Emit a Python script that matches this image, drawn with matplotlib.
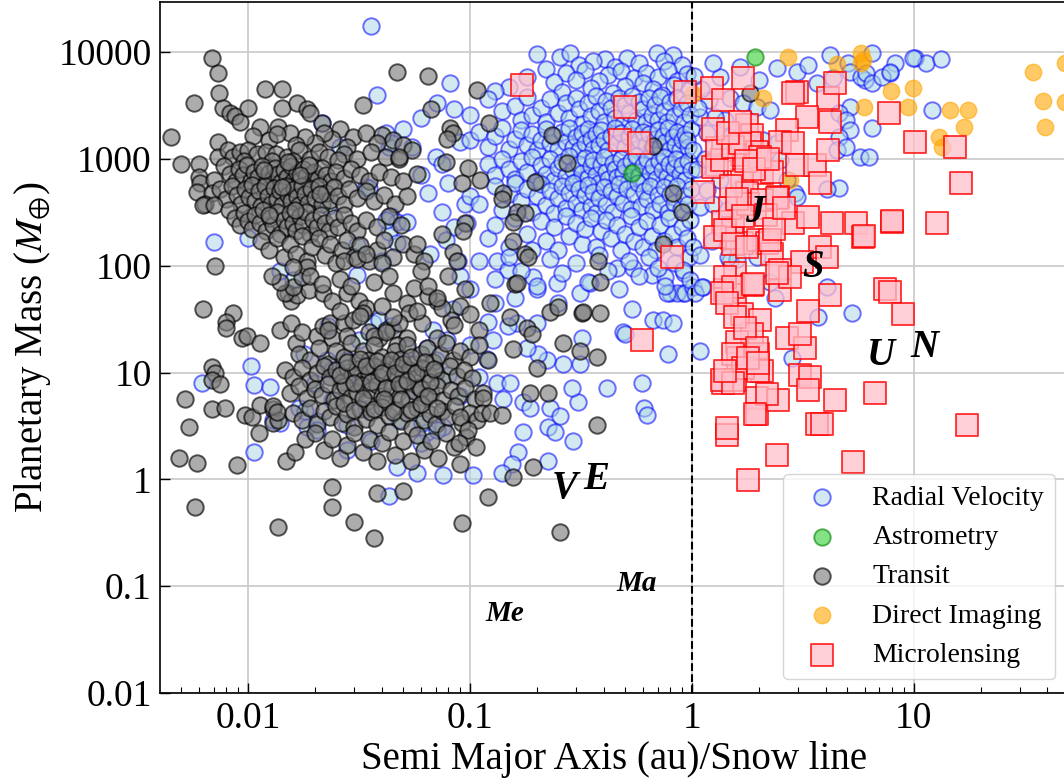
import matplotlib
matplotlib.use("Agg")
import matplotlib.pyplot as plt
from matplotlib.ticker import FixedLocator, FuncFormatter, LogLocator, NullLocator, NullFormatter

plt.rcParams['font.family'] = ['Liberation Serif', 'DejaVu Serif']
plt.rcParams['mathtext.fontset'] = 'stix'

# ---- data: (a / snow line, mass in earth masses) ----

# transits: outliers and the far-left hook
transit_far = [(0.0069, 8800), (0.0073, 6300), (0.0074, 4100), (0.0057, 3300), (0.0045, 1600),
               (0.005, 900), (0.006, 900), (0.0073, 1430), (0.0077, 3000), (0.0083, 2700),
               (0.0087, 2500), (0.0092, 2200), (0.01, 3000), (0.0119, 4500), (0.0143, 4500),
               (0.0143, 3000), (0.0167, 3300), (0.0184, 2900), (0.019, 2700), (0.0215, 2150),
               (0.0113, 2000), (0.0136, 2000), (0.033, 3200), (0.047, 6500), (0.026, 1900),
               (0.0063, 39), (0.0086, 36), (0.008, 30), (0.008, 26), (0.0094, 21), (0.0099, 22),
               (0.0113, 19), (0.0069, 11.2), (0.0071, 9.9), (0.0069, 8.6), (0.0075, 7.8),
               (0.0052, 5.6), (0.0069, 4.6), (0.0079, 4.7), (0.0054, 3.1), (0.0049, 1.6),
               (0.0059, 1.43), (0.0089, 1.36), (0.0058, 0.55), (0.0097, 4.0), (0.0104, 3.8),
               (0.0113, 5.0), (0.0129, 4.6), (0.0112, 2.7), (0.013, 3.4), (0.0137, 3.6),
               (0.0148, 1.47), (0.0163, 1.8), (0.0137, 0.36), (0.024, 0.84), (0.024, 0.55),
               (0.038, 0.74), (0.05, 0.77), (0.03, 0.4), (0.037, 0.28), (0.12, 0.68),
               (0.092, 0.39), (0.254, 0.32), (0.0071, 100), (0.013, 4.9), (0.0135, 4.3)]

# transits: hot jupiter clump
transit_hot = [(0.0297, 1600), (0.034, 1750), (0.04, 1680), (0.024, 1550), (0.022, 1750), (0.02, 1420),
               (0.018, 1600), (0.0155, 1750), (0.0125, 1500), (0.0165, 1350), (0.028, 1300),
               (0.045, 1500), (0.05, 1350), (0.038, 1400), (0.0105, 1650), (0.0135, 1700),
               (0.0073, 1030), (0.0081, 1200), (0.0086, 1030), (0.0092, 1150), (0.01, 1200),
               (0.011, 1100), (0.012, 1150), (0.0134, 1100), (0.027, 1100), (0.015, 1050),
               (0.017, 1200), (0.019, 1000), (0.021, 1150), (0.023, 1050), (0.031, 1000),
               (0.036, 1150), (0.042, 1050), (0.048, 1000), (0.055, 1200), (0.0096, 950),
               (0.0128, 950), (0.016, 950), (0.0255, 980),
               (0.006, 680), (0.0061, 600), (0.007, 630), (0.0078, 850), (0.0083, 720), (0.0088, 620),
               (0.0091, 800), (0.0095, 700), (0.0099, 880), (0.0103, 620), (0.0107, 760), (0.0111, 680),
               (0.0116, 850), (0.012, 600), (0.0124, 740), (0.0129, 660), (0.0133, 820), (0.0137, 720),
               (0.0141, 610), (0.0146, 780), (0.015, 680), (0.0156, 850), (0.016, 620), (0.0166, 730),
               (0.0171, 640), (0.0177, 800), (0.0183, 690), (0.019, 600), (0.0198, 760), (0.0207, 650),
               (0.0215, 820), (0.0225, 700), (0.0236, 620), (0.025, 750), (0.027, 660), (0.029, 800),
               (0.032, 700), (0.035, 620), (0.039, 760), (0.044, 680), (0.05, 620), (0.058, 720),
               (0.0059, 490), (0.0069, 480), (0.0064, 380), (0.0075, 520), (0.008, 420), (0.0085, 560),
               (0.0089, 460), (0.0093, 380), (0.0097, 520), (0.0101, 440), (0.0104, 570), (0.0108, 400),
               (0.0112, 500), (0.0115, 360), (0.0119, 560), (0.0123, 450), (0.0127, 380), (0.0131, 530),
               (0.0135, 420), (0.0139, 500), (0.0143, 370), (0.0148, 560), (0.0152, 460), (0.0157, 400),
               (0.0161, 520), (0.0166, 440), (0.017, 370), (0.0176, 560), (0.0181, 470), (0.0187, 390),
               (0.0193, 520), (0.02, 430), (0.0208, 560), (0.0216, 380), (0.0224, 480), (0.0233, 410),
               (0.0243, 540), (0.0255, 450), (0.027, 380), (0.0285, 520), (0.031, 430), (0.034, 500),
               (0.037, 400), (0.041, 460), (0.046, 380), (0.052, 450), (0.0063, 370), (0.007, 370),
               (0.0082, 330), (0.0087, 280), (0.0092, 240), (0.0096, 310), (0.01, 260), (0.0104, 220),
               (0.0108, 300), (0.0113, 250), (0.0117, 330), (0.0121, 210), (0.0126, 280), (0.013, 240),
               (0.0135, 320), (0.014, 200), (0.0145, 270), (0.015, 230), (0.0155, 310), (0.016, 250),
               (0.0165, 210), (0.0171, 290), (0.0177, 240), (0.0183, 320), (0.019, 200), (0.0197, 270),
               (0.0205, 230), (0.0213, 300), (0.0222, 250), (0.0232, 210), (0.0243, 280), (0.0255, 230),
               (0.027, 300), (0.029, 250), (0.031, 210), (0.034, 270), (0.038, 230), (0.043, 290),
               (0.049, 240), (0.0115, 170), (0.0125, 140), (0.0135, 180), (0.0145, 120), (0.0155, 160),
               (0.0165, 130), (0.0175, 190), (0.0185, 110), (0.0195, 150), (0.021, 180), (0.0222, 125),
               (0.0235, 160), (0.025, 105), (0.0265, 140), (0.028, 175), (0.03, 120), (0.032, 155),
               (0.035, 110), (0.038, 140), (0.041, 175), (0.045, 120), (0.05, 160), (0.056, 130),
               (0.062, 110), (0.0118, 780), (0.0142, 540), (0.0163, 330), (0.0188, 880), (0.0212, 470),
               (0.0151, 940), (0.0124, 300), (0.0172, 700)]

# transits: the band between hot jupiters and small planets
transit_mid = [(0.0152, 56), (0.0157, 47), (0.0166, 53), (0.0189, 59), (0.0218, 56), (0.0239, 47),
               (0.0278, 56), (0.0316, 47), (0.034, 40), (0.04, 42), (0.045, 56), (0.052, 45),
               (0.053, 36), (0.071, 47), (0.014, 25), (0.0157, 29), (0.0165, 19), (0.0176, 24),
               (0.0205, 22), (0.0218, 27), (0.0235, 29), (0.0239, 21), (0.027, 29), (0.0298, 31),
               (0.033, 36), (0.035, 24), (0.039, 21), (0.042, 25), (0.045, 25), (0.048, 29),
               (0.052, 21), (0.061, 29), (0.071, 21), (0.082, 31), (0.0147, 56), (0.016, 63),
               (0.0175, 79), (0.0184, 98), (0.016, 98), (0.027, 110), (0.031, 115), (0.034, 130),
               (0.04, 105), (0.023, 25), (0.028, 22), (0.037, 22), (0.042, 24), (0.047, 18),
               (0.0139, 70), (0.0128, 80), (0.019, 80), (0.0215, 68), (0.026, 75), (0.029, 64),
               (0.037, 70), (0.043, 80), (0.056, 62), (0.065, 52), (0.09, 42), (0.045, 33),
               (0.058, 38), (0.026, 38), (0.032, 34), (0.06, 90), (0.065, 65), (0.08, 80),
               (0.075, 40), (0.085, 28), (0.1, 35), (0.11, 25), (0.095, 60)]

# transits: small planets
transit_small = [(0.017, 15), (0.019, 13), (0.021, 17), (0.023, 12), (0.025, 16), (0.027, 14), (0.029, 19),
                 (0.031, 12.5), (0.033, 16), (0.035, 13), (0.037, 18), (0.04, 14), (0.043, 12), (0.046, 16),
                 (0.049, 13.5), (0.052, 18), (0.056, 12), (0.06, 15), (0.064, 17), (0.068, 12.5),
                 (0.073, 14.5), (0.078, 19), (0.084, 13), (0.09, 16), (0.1, 14), (0.11, 18), (0.12, 13),
                 (0.0147, 10.5), (0.016, 9), (0.0175, 11), (0.019, 8.5), (0.0205, 10), (0.022, 11.5),
                 (0.0235, 9), (0.025, 10.5), (0.0265, 8.2), (0.028, 11), (0.0295, 9.5), (0.031, 10.8),
                 (0.033, 8.6), (0.035, 10), (0.037, 11.6), (0.039, 9), (0.041, 10.4), (0.044, 8.4),
                 (0.047, 11.2), (0.05, 9.4), (0.053, 10.6), (0.057, 8.8), (0.061, 11), (0.065, 9.6),
                 (0.07, 10.2), (0.075, 8.5), (0.081, 11.4), (0.087, 9.2), (0.094, 10.5), (0.102, 8.9),
                 (0.0155, 6.5), (0.017, 7.5), (0.0185, 5.8), (0.02, 7), (0.0215, 6.2), (0.023, 7.8),
                 (0.0245, 5.5), (0.026, 6.8), (0.0275, 7.4), (0.029, 5.9), (0.031, 6.6), (0.0325, 7.6),
                 (0.034, 5.3), (0.036, 6.9), (0.038, 7.7), (0.04, 6), (0.042, 5.4), (0.0445, 7.1),
                 (0.047, 6.3), (0.05, 7.6), (0.053, 5.6), (0.056, 6.7), (0.059, 7.3), (0.063, 5.8),
                 (0.067, 6.5), (0.071, 7.5), (0.076, 5.5), (0.082, 6.8), (0.088, 6), (0.095, 7.2),
                 (0.105, 5.7), (0.115, 6.5), (0.016, 4.2), (0.0175, 3.6), (0.019, 4.7), (0.0205, 3.3),
                 (0.022, 4.4), (0.0235, 3.8), (0.025, 4.9), (0.0265, 3.4), (0.028, 4.1), (0.03, 3.1),
                 (0.032, 4.6), (0.034, 3.7), (0.036, 4.3), (0.038, 3.2), (0.04, 4.8), (0.043, 3.9),
                 (0.046, 4.5), (0.049, 3.5), (0.052, 4.2), (0.055, 3), (0.058, 4.7), (0.062, 3.6),
                 (0.066, 4.1), (0.07, 3.3), (0.075, 4.4), (0.08, 3.8), (0.086, 4.9), (0.092, 3.4),
                 (0.1, 4.2), (0.108, 3.6), (0.018, 2.4), (0.02, 2.7), (0.022, 1.9), (0.024, 2.4),
                 (0.026, 1.6), (0.028, 2.1), (0.03, 2.7), (0.033, 1.8), (0.035, 2.4), (0.038, 1.5),
                 (0.04, 2.2), (0.043, 2.8), (0.046, 1.7), (0.05, 2.3), (0.054, 1.5), (0.058, 2.6),
                 (0.062, 1.9), (0.067, 2.3), (0.072, 1.6), (0.078, 2.7), (0.085, 2), (0.09, 1.4),
                 (0.096, 2.5), (0.026, 9.5), (0.028, 12.5), (0.03, 8), (0.032, 13.5), (0.034, 11.5),
                 (0.036, 8.2), (0.038, 12.8), (0.04, 9.8), (0.042, 7.2), (0.044, 13), (0.046, 10),
                 (0.048, 7.8), (0.05, 12), (0.052, 8.4), (0.054, 14), (0.057, 9.8), (0.06, 7),
                 (0.063, 12.5), (0.066, 8.2), (0.069, 10.8), (0.027, 5.2), (0.03, 4.5), (0.033, 5.8),
                 (0.037, 4.6), (0.041, 5.7), (0.045, 4.3), (0.049, 5.6), (0.054, 4.5), (0.06, 5.1),
                 (0.065, 6), (0.071, 4.7), (0.115, 5.8), (0.113, 4.2), (0.123, 4.2), (0.14, 4.0),
                 (0.09, 3.8), (0.098, 2.9), (0.089, 2.2), (0.107, 2.0)]

# transits: sparse ones out to the snow line
transit_sparse = [(0.0647, 5950), (0.108, 4400), (0.067, 2940), (0.122, 2150), (0.081, 1950), (0.084, 1750),
                  (0.079, 1530), (0.078, 930), (0.098, 820), (0.092, 590), (0.111, 630), (0.141, 480),
                  (0.14, 420), (0.196, 610), (0.234, 1670), (0.273, 910), (0.163, 320), (0.177, 310),
                  (0.156, 255), (0.095, 250), (0.093, 210), (0.075, 200), (0.058, 160), (0.156, 170),
                  (0.177, 130), (0.183, 120), (0.084, 135), (0.087, 110), (0.377, 110), (0.385, 70),
                  (0.667, 1320), (0.82, 480), (0.9, 315), (0.74, 160), (0.16, 67), (0.071, 50),
                  (1.82, 4100), (0.32, 36), (0.385, 36), (0.229, 37), (0.249, 41), (0.263, 19),
                  (0.313, 16), (0.373, 14), (0.224, 6.4), (0.186, 6.4), (0.373, 3.2), (0.156, 1.05),
                  (0.192, 1.3), (0.322, 37), (0.048, 1040), (0.163, 69), (0.123, 45), (0.152, 33),
                  (0.181, 26), (0.19, 23), (0.156, 16.5), (0.2, 11)]

# radial velocity: close-in giants
rv_hot = [(0.036, 17500), (0.038, 3950), (0.0215, 2150), (0.026, 1300), (0.0206, 600), (0.034, 550),
          (0.043, 1300), (0.042, 1750), (0.044, 1420), (0.035, 530), (0.023, 360), (0.044, 290),
          (0.047, 255), (0.052, 255), (0.043, 205), (0.047, 162), (0.031, 155), (0.04, 110),
          (0.031, 82), (0.014, 90), (0.016, 74), (0.01, 180), (0.007, 166), (0.0126, 590),
          (0.042, 270), (0.05, 1900), (0.055, 1300), (0.06, 700), (0.065, 480), (0.07, 1050),
          (0.075, 320), (0.08, 600), (0.085, 230), (0.09, 1450), (0.095, 380), (0.066, 130),
          (0.078, 175), (0.088, 110), (0.06, 2400), (0.085, 2900), (0.075, 900)]

# radial velocity: low masses
rv_low = [(0.0103, 11.6), (0.0106, 7.6), (0.0126, 7.3), (0.0062, 7.9), (0.0106, 1.8), (0.0178, 15),
          (0.0184, 3.1), (0.0226, 13), (0.0239, 10.5), (0.0278, 13), (0.0316, 20), (0.0367, 29),
          (0.039, 31), (0.044, 27), (0.052, 17), (0.064, 17), (0.068, 25), (0.079, 20), (0.084, 39),
          (0.076, 3.1), (0.064, 2.8), (0.047, 1.3), (0.028, 1.9), (0.0205, 3.55), (0.017, 4.7),
          (0.018, 4.4), (0.034, 4.6), (0.048, 3.6), (0.061, 3.4), (0.071, 2.9), (0.023, 27),
          (0.02, 8), (0.024, 5.5), (0.028, 3.2), (0.032, 9), (0.036, 2.3), (0.045, 12), (0.055, 7),
          (0.06, 2.2), (0.07, 13), (0.08, 9.5), (0.09, 6), (0.1, 18), (0.11, 9), (0.12, 30),
          (0.13, 45), (0.1, 60), (0.09, 80), (0.16, 50), (0.2, 60), (0.25, 45), (0.0129, 3.6),
          (0.014, 3.4), (0.0205, 2.9), (0.043, 0.7), (0.058, 1.14), (0.076, 1.1),
          (0.133, 110), (0.148, 92), (0.192, 78), (0.246, 69), (0.313, 55), (0.348, 69), (0.46, 95),
          (0.543, 95), (0.66, 82), (0.76, 78), (0.8, 55), (0.91, 55), (0.536, 39), (0.67, 31),
          (0.74, 31), (0.82, 29), (0.49, 24), (0.32, 21), (0.78, 15), (0.313, 12), (0.263, 12),
          (0.222, 13), (0.203, 15), (0.18, 17), (0.163, 29), (0.2, 29), (0.148, 27), (0.127, 20),
          (0.119, 13.5), (0.133, 7.9), (0.152, 7.9), (0.141, 5.6), (0.173, 5.3), (0.186, 4.7),
          (0.229, 4.7), (0.254, 3.9), (0.307, 5.3), (0.288, 7.2), (0.414, 7.2), (0.595, 7.9),
          (0.61, 4.7), (0.63, 4.0), (0.224, 3.1), (0.242, 2.8), (0.29, 2.3), (0.173, 2.8),
          (0.165, 1.8), (0.154, 1.4), (0.224, 1.5), (0.103, 1.1), (0.14, 1.15), (0.86, 55),
          (0.77, 55), (0.93, 55), (0.5, 23)]

# radial velocity: the big giant-planet cloud inside the snow line
rv_giant = [(0.2, 9500), (0.254, 9000), (0.282, 9800), (0.406, 8600), (0.51, 8800), (0.695, 9800),
            (0.82, 9300), (0.31, 7600), (0.36, 8200), (0.45, 7200), (0.58, 7900), (0.75, 8300),
            (0.9, 7600), (0.22, 6900), (0.27, 6400), (0.33, 6800), (0.42, 6100), (0.48, 6600),
            (0.55, 5700), (0.62, 6300), (0.7, 5900), (0.78, 6800), (0.86, 5400), (0.95, 6200),
            (0.18, 5900), (0.24, 5200), (0.3, 5500), (0.38, 5300), (0.6, 5100), (0.081, 5100),
            (0.15, 4700), (0.35, 4600), (0.5, 4800), (0.67, 4500), (0.83, 4900), (0.97, 4400),
            (0.13, 4300), (0.26, 4200), (0.44, 4100), (0.73, 4000),
            (0.071, 3300), (0.1, 2570), (0.12, 3600), (0.14, 2800), (0.16, 3100), (0.17, 2300),
            (0.18, 3800), (0.19, 2600), (0.21, 3000), (0.22, 2200), (0.23, 3600), (0.25, 2700),
            (0.27, 3300), (0.28, 2400), (0.3, 3700), (0.31, 2900), (0.32, 2100), (0.34, 3300),
            (0.35, 2500), (0.37, 3900), (0.38, 2800), (0.4, 2200), (0.41, 3500), (0.43, 3000),
            (0.45, 2400), (0.47, 3700), (0.49, 2100), (0.5, 3200), (0.52, 2700), (0.54, 3900),
            (0.56, 2300), (0.58, 3400), (0.6, 2900), (0.62, 2200), (0.64, 3700), (0.66, 2600),
            (0.68, 3200), (0.7, 2300), (0.72, 3800), (0.75, 2800), (0.77, 2200), (0.8, 3400),
            (0.83, 2500), (0.86, 3700), (0.89, 2900), (0.92, 2200), (0.95, 3300), (0.98, 2600),
            (0.1, 1500), (0.11, 1800), (0.12, 1300), (0.13, 1650), (0.14, 1950), (0.15, 1250),
            (0.16, 1550), (0.17, 1850), (0.18, 1350), (0.19, 1700), (0.2, 1200), (0.21, 1500),
            (0.22, 1900), (0.23, 1400), (0.24, 1650), (0.25, 1250), (0.26, 1800), (0.27, 1450),
            (0.28, 1950), (0.29, 1300), (0.3, 1600), (0.31, 1200), (0.32, 1750), (0.33, 1400),
            (0.34, 1900), (0.35, 1550), (0.36, 1250), (0.37, 1700), (0.38, 1350), (0.39, 1850),
            (0.4, 1500), (0.42, 1200), (0.43, 1650), (0.45, 1950), (0.46, 1400), (0.48, 1750),
            (0.5, 1300), (0.52, 1600), (0.54, 1900), (0.56, 1250), (0.58, 1500), (0.6, 1800),
            (0.62, 1350), (0.64, 1700), (0.66, 1200), (0.68, 1550), (0.7, 1850), (0.72, 1300),
            (0.74, 1650), (0.76, 1450), (0.78, 1950), (0.8, 1250), (0.82, 1600), (0.84, 1350),
            (0.86, 1800), (0.88, 1200), (0.9, 1500), (0.93, 1700), (0.96, 1300), (0.99, 1900),
            (0.12, 900), (0.13, 700), (0.14, 1000), (0.15, 800), (0.16, 650), (0.17, 950),
            (0.18, 750), (0.19, 1050), (0.2, 620), (0.21, 880), (0.22, 720), (0.23, 1000),
            (0.24, 640), (0.25, 830), (0.26, 940), (0.27, 690), (0.28, 1060), (0.29, 780),
            (0.3, 610), (0.31, 900), (0.32, 730), (0.33, 1020), (0.34, 660), (0.35, 850),
            (0.36, 970), (0.37, 710), (0.38, 600), (0.39, 880), (0.4, 1040), (0.41, 760),
            (0.42, 650), (0.44, 920), (0.45, 800), (0.46, 680), (0.48, 1000), (0.49, 740),
            (0.5, 860), (0.52, 620), (0.53, 950), (0.55, 770), (0.56, 1060), (0.58, 690),
            (0.6, 880), (0.61, 610), (0.63, 1000), (0.65, 740), (0.67, 860), (0.69, 650),
            (0.71, 960), (0.73, 780), (0.75, 1050), (0.77, 680), (0.79, 900), (0.81, 620),
            (0.83, 820), (0.85, 1000), (0.88, 720), (0.9, 880), (0.93, 640), (0.96, 960), (0.99, 780),
            (0.1, 450), (0.11, 380), (0.13, 560), (0.14, 330), (0.15, 470), (0.16, 590), (0.17, 400),
            (0.18, 520), (0.19, 320), (0.2, 450), (0.21, 580), (0.22, 370), (0.23, 500), (0.24, 310),
            (0.25, 430), (0.26, 560), (0.27, 350), (0.28, 480), (0.29, 590), (0.3, 390), (0.31, 520),
            (0.32, 330), (0.33, 460), (0.34, 570), (0.35, 360), (0.36, 490), (0.37, 310), (0.38, 430),
            (0.4, 550), (0.41, 370), (0.43, 500), (0.44, 320), (0.46, 450), (0.47, 580), (0.49, 390),
            (0.51, 520), (0.53, 340), (0.55, 470), (0.57, 590), (0.59, 360), (0.61, 500), (0.63, 420),
            (0.65, 560), (0.67, 330), (0.7, 460), (0.72, 380), (0.75, 540), (0.78, 320), (0.8, 470),
            (0.83, 390), (0.86, 560), (0.89, 340), (0.92, 450), (0.96, 380), (0.99, 520),
            (0.097, 250), (0.12, 180), (0.13, 240), (0.15, 150), (0.16, 280), (0.18, 200), (0.19, 140),
            (0.21, 260), (0.22, 170), (0.24, 230), (0.25, 140), (0.27, 290), (0.28, 190), (0.3, 250),
            (0.32, 160), (0.33, 220), (0.35, 280), (0.37, 150), (0.39, 210), (0.41, 270), (0.43, 180),
            (0.46, 240), (0.48, 140), (0.5, 200), (0.53, 290), (0.55, 170), (0.58, 230), (0.6, 150),
            (0.63, 260), (0.66, 190), (0.69, 140), (0.72, 240), (0.75, 170), (0.79, 280), (0.82, 200),
            (0.86, 150), (0.9, 230), (0.95, 180), (0.98, 270),
            (0.11, 110), (0.13, 75), (0.15, 120), (0.17, 90), (0.2, 65), (0.23, 115), (0.26, 85),
            (0.3, 105), (0.34, 70), (0.38, 125), (0.42, 90), (0.47, 60), (0.52, 110), (0.58, 80),
            (0.64, 120), (0.7, 95), (0.76, 65), (0.84, 105), (0.92, 85), (0.97, 120)]

# radial velocity: beyond the snow line
rv_cold = [(1.09, 16), (1.48, 110), (1.6, 115), (1.01, 63), (1.12, 63), (2.36, 50), (2.82, 13.6),
           (3.7, 33), (5.25, 36), (4.05, 63), (2.91, 480), (4.6, 530), (4.05, 520), (5.7, 1040),
           (6.25, 1040), (6.5, 1940), (12.1, 2860), (4.19, 9370), (5.05, 7900), (6.0, 5470),
           (6.47, 9790), (8.2, 7900), (7.8, 6350), (10.1, 8800), (11.3, 7900), (13.2, 8600),
           (1.34, 5800), (1.64, 7200), (2.0, 5500), (2.41, 7100), (2.97, 6500), (3.33, 7600),
           (3.66, 5100), (4.32, 5700), (5.15, 6500), (5.8, 5800), (6.1, 6300), (6.5, 5100),
           (7.2, 5800), (7.8, 6500), (9.9, 8800), (1.2, 3560), (1.48, 3700), (1.7, 3300),
           (1.96, 3050), (2.24, 2860), (5.15, 3050), (4.6, 2680), (4.97, 2300), (5.15, 1860),
           (4.6, 1600), (4.5, 1210), (4.97, 1290), (1.41, 2300), (1.48, 1600), (1.09, 2460),
           (0.95, 1500), (1.01, 1200), (1.17, 1750), (1.27, 2460), (1.64, 550), (1.34, 630),
           (1.17, 510), (1.09, 355), (1.24, 380), (1.44, 330), (1.23, 170), (1.01, 150),
           (1.09, 125), (0.91, 92), (0.98, 73), (2.09, 1500), (2.41, 1400), (2.97, 440),
           (2.68, 630), (2.49, 970), (1.45, 120), (1.96, 120), (2.24, 70), (1.03, 55), (1.11, 63),
           (1.05, 800), (1.15, 1000), (1.1, 4500), (1.25, 7900), (1.02, 6000), (1.06, 3000)]

astro = [(1.92, 8990), (0.537, 736)]

direct_imaging = [(2.7, 8980), (4.5, 7720), (5.8, 9800), (5.9, 8400), (5.8, 7900), (7.9, 4310),
                  (9.9, 4600), (5.96, 3050), (9.4, 3050), (14.5, 2860), (17.5, 2860), (16.9, 1990),
                  (13.0, 1600), (13.4, 1290), (34.4, 6500), (38.2, 3480), (39.0, 1990), (48.0, 7900),
                  (48.0, 3400), (1.01, 4050), (2.09, 3700), (2.76, 630)]

microlensing = [(1.23, 4600), (1.38, 3560), (1.7, 5700), (2.97, 4200), (4.1, 3700), (4.4, 5100),
                (3.3, 2460), (4.18, 2210), (7.7, 2690), (10.1, 1440), (1.77, 2070), (1.86, 1680),
                (1.82, 1410), (2.68, 1860), (2.5, 1440), (2.85, 1410), (1.38, 1210), (1.3, 870),
                (1.68, 1085), (1.96, 1160), (2.07, 740), (2.3, 750), (2.97, 870), (3.58, 870),
                (4.1, 1210), (3.77, 590), (1.68, 630), (1.77, 480), (1.92, 350), (2.44, 440),
                (1.12, 490), (1.38, 255), (1.53, 225), (1.68, 162), (1.51, 181), (1.27, 185),
                (1.98, 175), (2.18, 162), (2.3, 130), (2.85, 250), (3.33, 285), (4.27, 250),
                (5.5, 250), (5.9, 187), (7.95, 255), (3.77, 150), (4.05, 120), (3.13, 108),
                (1.56, 85), (1.41, 59), (1.56, 53), (1.86, 66), (2.5, 91), (2.5, 59), (2.77, 78),
                (4.18, 53), (7.4, 61), (7.8, 57), (8.9, 35), (3.33, 38), (1.68, 35), (2.02, 31),
                (1.86, 23), (2.68, 21), (3.23, 17), (3.06, 23), (1.6, 19.5), (1.61, 13.8),
                (1.98, 15), (2.07, 10.4), (1.38, 7.9), (1.56, 8.5), (3.06, 9.4), (3.4, 9.1),
                (3.33, 6.8), (1.96, 5.8), (1.96, 4.1), (2.44, 5.5), (4.4, 5.5), (6.67, 6.4),
                (3.66, 3.3), (3.85, 3.3), (1.44, 2.6), (1.44, 3.0), (2.41, 1.7), (5.3, 1.45),
                (1.79, 0.98), (0.93, 4200), (0.171, 4900), (0.499, 3060), (0.474, 1500),
                (0.577, 1420), (0.81, 120), (0.595, 20), (15.4, 1290), (16.3, 590), (8.0, 260),
                (12.7, 250), (5.96, 190), (17.3, 3.2), (2.85, 4100), (1.24, 840), (1.36, 980),
                (1.3, 1260), (1.53, 1290), (1.64, 1400), (2.02, 1040), (1.41, 215), (1.53, 160),
                (1.77, 150), (2.24, 175), (1.48, 350), (1.79, 380), (2.07, 410), (2.41, 430),
                (1.41, 78), (1.53, 63), (1.88, 68), (2.41, 86), (1.36, 55), (1.44, 45), (1.56, 33),
                (1.73, 26), (1.96, 17), (1.53, 15), (1.7, 11), (1.98, 10.4), (2.18, 6.3),
                (1.36, 8.5), (1.53, 7.9), (1.41, 10.4), (1.79, 13.8), (1.98, 12.3), (1.92, 4.1),
                (1.25, 1900), (1.45, 1750), (1.65, 2200), (1.75, 950), (1.9, 800), (2.2, 1000),
                (1.5, 560), (1.6, 420), (2.15, 300), (2.35, 220), (1.7, 290), (2.6, 350)]

planet_names = ['Me', 'V', 'E', 'Ma', 'J', 'S', 'U', 'N']
planet_au = [0.387, 0.723, 1.0, 1.524, 5.203, 9.537, 19.19, 30.07]
planet_mass = [0.0553, 0.815, 1.0, 0.107, 317.8, 95.2, 14.5, 17.1]
snow_line = 2.7

x_ticks = [0.01, 0.1, 1, 10]
y_ticks = [0.01, 0.1, 1, 10, 100, 1000, 10000]


def unzip(*groups):
    pts = [p for g in groups for p in g]
    return [p[0] for p in pts], [p[1] for p in pts]


fig = plt.figure(figsize=(10.64, 7.78), dpi=100)
ax = fig.add_axes([160 / 1064, 85 / 778, 909 / 1064, 691 / 778])
ax.set_xscale('log')
ax.set_yscale('log')

x, y = unzip(rv_hot, rv_low, rv_giant, rv_cold)
ax.scatter(x, y, s=140, facecolor='lightblue', edgecolor='blue', linewidths=1.4,
           alpha=0.55, label='Radial Velocity', zorder=2)
x, y = unzip(astro)
ax.scatter(x, y, s=140, facecolor='limegreen', edgecolor='green', linewidths=1.4,
           alpha=0.6, label='Astrometry', zorder=2)
x, y = unzip(transit_far, transit_hot, transit_mid, transit_small, transit_sparse)
ax.scatter(x, y, s=140, facecolor='gray', edgecolor='black', linewidths=1.4,
           alpha=0.65, label='Transit', zorder=2)
x, y = unzip(direct_imaging)
ax.scatter(x, y, s=140, facecolor='orange', edgecolor='orange', linewidths=1.0,
           alpha=0.6, label='Direct Imaging', zorder=2)
x, y = unzip(microlensing)
ax.scatter(x, y, s=230, marker='s', facecolor='pink', edgecolor='red', linewidths=1.4,
           alpha=0.75, label='Microlensing', zorder=2)

ax.axvline(1, color='black', ls='--', lw=1.5, zorder=3)

for name, a, m in zip(planet_names, planet_au, planet_mass):
    ax.text(a / snow_line, m, name, fontsize=28 if len(name) == 1 else 21,
            style='italic', weight='bold', ha='center', va='center', zorder=4)

ax.set_xlim(0.004015, 50)
ax.set_ylim(0.01, 29400)

fmt = FuncFormatter(lambda v, p: f"{v:g}")
ax.xaxis.set_major_locator(FixedLocator(x_ticks))
ax.yaxis.set_major_locator(FixedLocator(y_ticks))
ax.xaxis.set_major_formatter(fmt)
ax.yaxis.set_major_formatter(fmt)
ax.xaxis.set_minor_locator(LogLocator(base=10, subs=range(2, 10)))
ax.xaxis.set_minor_formatter(NullFormatter())
ax.yaxis.set_minor_locator(NullLocator())
ax.tick_params(which='both', direction='in', top=False, right=False, labelsize=27)
ax.tick_params(which='major', length=7, width=1, pad=6)
ax.tick_params(which='minor', length=4, width=0.8)
ax.grid(True, which='major', color='#c8c8c8', lw=1.2)
ax.set_axisbelow(True)
for sp in ax.spines.values():
    sp.set_linewidth(1.2)

ax.set_xlabel('Semi Major Axis (au)/Snow line', fontsize=28)
ax.set_ylabel(r'Planetary Mass ($M_{\oplus}$)', fontsize=28)

ax.legend(loc='lower right', fontsize=20, framealpha=0.8)

fig.savefig('out.png', dpi=100)
